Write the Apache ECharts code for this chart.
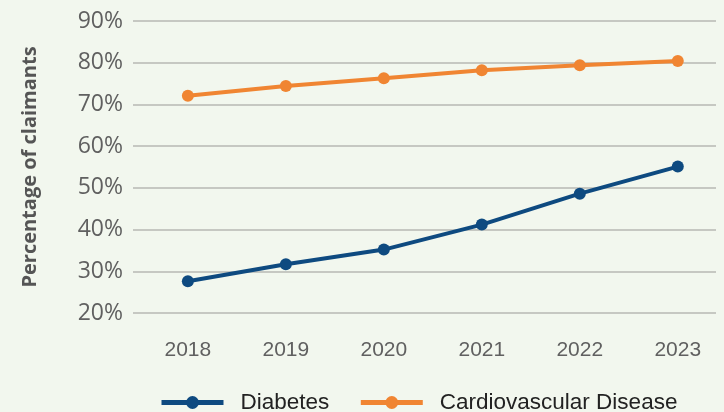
<!DOCTYPE html>
<html>
<head>
<meta charset="utf-8">
<script src="https://cdn.jsdelivr.net/npm/echarts@6/dist/echarts.min.js"></script>
<style>
  html, body { margin: 0; padding: 0; background: #f2f7ee; }
  #main { width: 724px; height: 412px; }
</style>
</head>
<body>
<div id="main"></div>
<script>
var years = [2018, 2019, 2020, 2021, 2022, 2023]
var diabetes = [27.6, 31.7, 35.2, 41.2, 48.6, 55.1]
var cardio = [72.1, 74.4, 76.3, 78.2, 79.4, 80.4]

var chart = echarts.init(document.getElementById('main'))

function pairs(vals) {
    return vals.map(function (v, i) { return [years[i], v] })
}

chart.setOption({
    backgroundColor: '#f2f7ee',
    animation: false,
    grid: { left: 133, right: 8, top: 21, bottom: 99 },
    xAxis: {
        type: 'value',
        min: 2017.44,
        max: 2023.39,
        axisLine: { show: false },
        axisTick: { show: false },
        splitLine: { show: false },
        axisLabel: {
            customValues: years,
            color: '#606060',
            fontSize: 21,
            fontFamily: 'Liberation Sans',
            margin: 27,
            formatter: function (v) { return String(v) }
        }
    },
    yAxis: {
        type: 'value',
        min: 20,
        max: 90,
        interval: 10,
        name: 'Percentage of claimants',
        nameLocation: 'middle',
        nameGap: 93,
        nameTextStyle: { color: '#555', fontSize: 20, fontWeight: 'bold', fontFamily: 'Open Sans' },
        axisLine: { show: false },
        axisTick: { show: false },
        axisLabel: {
            color: '#606060',
            fontSize: 23,
            fontFamily: 'Open Sans',
            margin: 10,
            formatter: '{value}%'
        },
        splitLine: { lineStyle: { color: '#c6c8c2', width: 2 } }
    },
    legend: {
        top: 386,
        left: 154,
        itemWidth: 62,
        itemHeight: 16,
        itemGap: 29,
        lineStyle: { width: 5 },
        textStyle: { color: '#222', fontSize: 22.5, fontFamily: 'Liberation Sans', padding: [0, 0, 0, 12] },
        data: ['Diabetes', 'Cardiovascular Disease']
    },
    series: [{
        name: 'Diabetes',
        type: 'line',
        symbol: 'circle',
        symbolSize: 12,
        lineStyle: { width: 4, color: '#0e4a80' },
        itemStyle: { color: '#0e4a80' },
        data: pairs(diabetes)
    }, {
        name: 'Cardiovascular Disease',
        type: 'line',
        symbol: 'circle',
        symbolSize: 12,
        lineStyle: { width: 4, color: '#f08532' },
        itemStyle: { color: '#f08532' },
        data: pairs(cardio)
    }]
})
</script>
</body>
</html>
